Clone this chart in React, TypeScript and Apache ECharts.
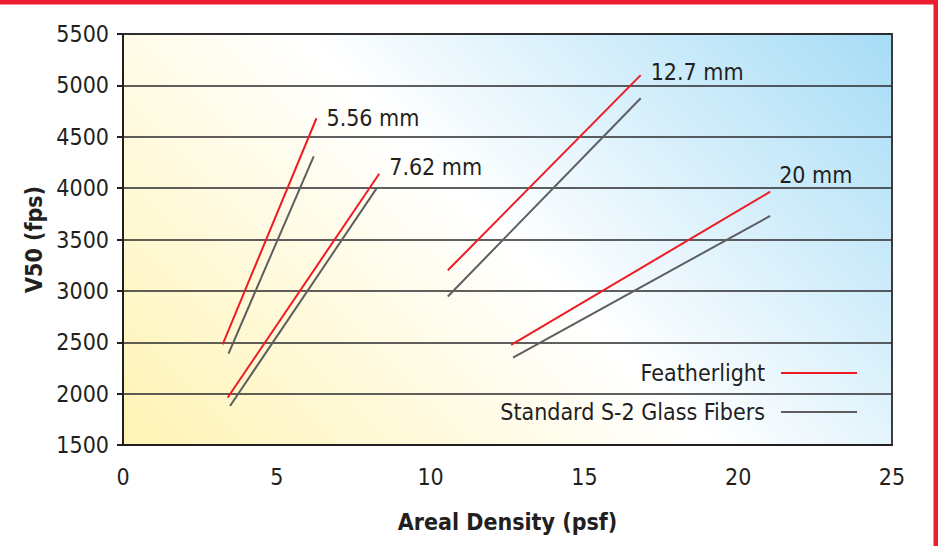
import React, { useEffect, useRef } from "react";
import * as echarts from "echarts";

const thicknessLabels = ["5.56 mm", "7.62 mm", "12.7 mm", "20 mm"];
const featherlightStart = [[3.24, 2480], [3.4, 1960], [10.56, 3200], [12.62, 2475]];
const featherlightEnd = [[6.29, 4680], [8.33, 4140], [16.83, 5100], [21.04, 3965]];
const s2Start = [[3.43, 2390], [3.48, 1880], [10.56, 2945], [12.68, 2350]];
const s2End = [[6.2, 4310], [8.26, 4005], [16.83, 4875], [21.04, 3730]];
const xTicks = [0, 5, 10, 15, 20, 25];
const yTicks = [1500, 2000, 2500, 3000, 3500, 4000, 4500, 5000, 5500];

const FONT = "'Liberation Sans Narrow', 'DejaVu Sans Condensed', 'Roboto', sans-serif";
const TXT = "#231f20";
const RED = "#ed1c24";
const GRAY = "#5d5e60";

export default function App() {
  const ref = useRef<HTMLDivElement>(null);
  useEffect(() => {
    document.body.style.margin = "0";
    const chart = echarts.init(ref.current!, null, { renderer: "svg" });
    const labelOffsets = [[0, 0], [0, -7], [0, -3], [-1, -17]];
    const series: any[] = [];
    thicknessLabels.forEach((lab, i) => {
      series.push({
        type: "line",
        name: "Featherlight",
        data: [featherlightStart[i], featherlightEnd[i]],
        showSymbol: false,
        symbol: "none",
        lineStyle: { color: RED, width: 2 },
        itemStyle: { color: RED },
        endLabel: {
          show: true,
          formatter: lab,
          distance: 10,
          offset: labelOffsets[i],
          color: TXT,
          fontFamily: FONT,
          fontSize: 23,
        },
        z: 3,
      });
      series.push({
        type: "line",
        name: "Standard S-2 Glass Fibers",
        data: [s2Start[i], s2End[i]],
        showSymbol: false,
        symbol: "none",
        lineStyle: { color: GRAY, width: 2 },
        itemStyle: { color: GRAY },
        z: 2,
      });
    });
    const option: any = {
      animation: false,
      grid: {
        left: 123,
        right: 46,
        top: 34,
        bottom: 101,
        show: true,
        borderWidth: 2,
        borderColor: "#3c3c3e",
        backgroundColor: new echarts.graphic.LinearGradient(
          123, 445, 712.5, -144.5,
          [
            { offset: 0, color: "#fff4b4" },
            { offset: 0.5, color: "#ffffff" },
            { offset: 1, color: "#a6dcf6" },
          ],
          true
        ),
      },
      legend: {
        data: ["Featherlight", "Standard S-2 Glass Fibers"],
        orient: "vertical",
        right: 76,
        top: 356,
        align: "right",
        icon: "rect",
        itemWidth: 76,
        itemHeight: 2,
        itemGap: 15,
        textStyle: { color: TXT, fontFamily: FONT, fontSize: 23, padding: [0, 11, 0, 0], lineHeight: 24 },
      },
      xAxis: {
        type: "value",
        min: xTicks[0],
        max: xTicks[xTicks.length - 1],
        interval: 5,
        name: "Areal Density (psf)",
        nameLocation: "middle",
        nameGap: 65,
        nameTextStyle: { color: TXT, fontFamily: FONT, fontSize: 23, fontWeight: "bold" },
        axisLine: { show: true, lineStyle: { color: TXT, width: 2 } },
        axisTick: { show: false },
        splitLine: { show: false },
        axisLabel: { color: TXT, fontFamily: FONT, fontSize: 23, margin: 20 },
      },
      yAxis: {
        type: "value",
        min: yTicks[0],
        max: yTicks[yTicks.length - 1],
        interval: 500,
        name: "V50 (fps)",
        nameLocation: "middle",
        nameGap: 77,
        nameTextStyle: { color: TXT, fontFamily: FONT, fontSize: 23, fontWeight: "bold" },
        axisLine: { show: true, lineStyle: { color: TXT, width: 2 } },
        axisTick: { show: true, length: 6, lineStyle: { color: TXT, width: 2 } },
        splitLine: { show: true, lineStyle: { color: "#2a2a2c", width: 1.6 } },
        axisLabel: { color: TXT, fontFamily: FONT, fontSize: 23, margin: 14, formatter: (v: number) => String(v) },
      },
      graphic: [
        { type: "rect", shape: { x: 0, y: 0, width: 938, height: 4.5 }, style: { fill: "#ed1c2e" }, z: 10 },
        { type: "rect", shape: { x: 933.5, y: 0, width: 4.5, height: 546 }, style: { fill: "#ed1c2e" }, z: 10 },
      ],
      series,
    };
    chart.setOption(option);
    return () => chart.dispose();
  }, []);
  return <div ref={ref} style={{ width: 938, height: 546, position: "absolute", left: 0, top: 0 }} />;
}
